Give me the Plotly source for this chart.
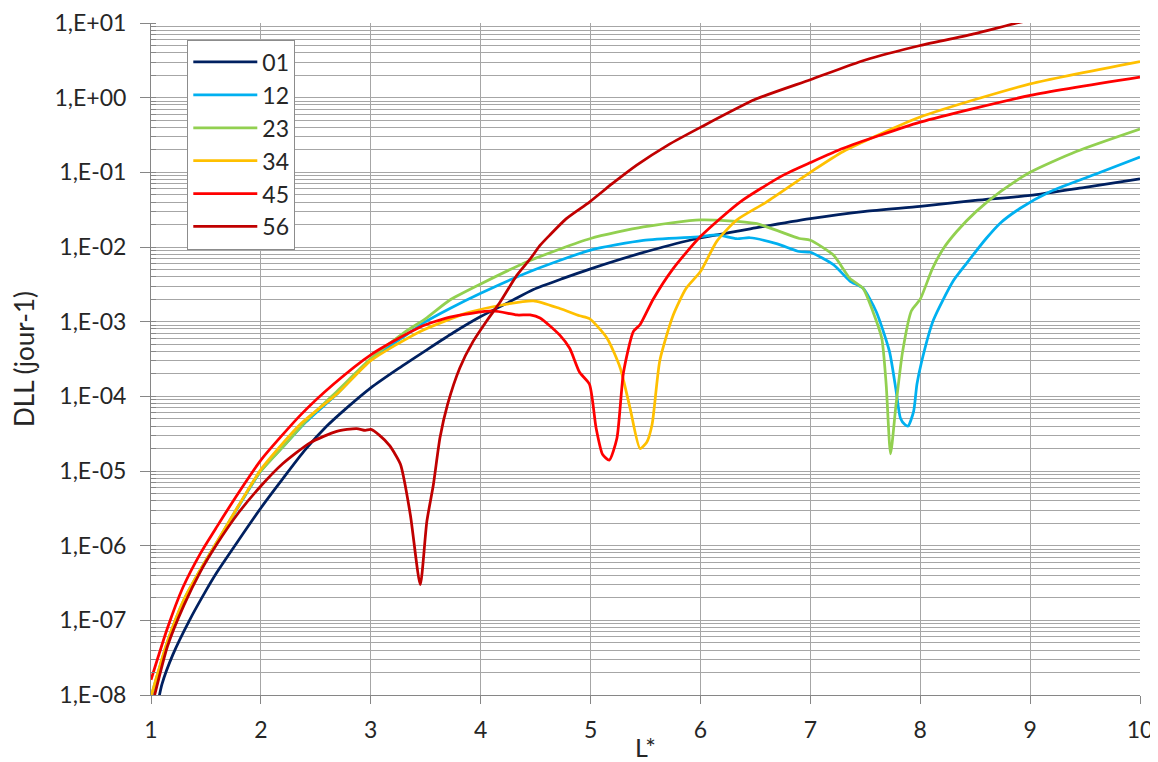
import plotly.graph_objects as go

# ---------------- data ----------------
L_01 = [1.05, 1.1, 1.2, 1.35, 1.5, 1.6, 1.8, 2.0, 2.2, 2.4, 2.6, 2.8, 3.0, 3.25, 3.51, 3.75,
        4.0, 4.25, 4.48, 4.75, 5.0, 5.45, 5.93, 6.5, 7.0, 7.5, 8.0, 8.5, 9.0, 9.5, 10.0]
D_01 = [6.3e-9, 1.4e-8, 3.5e-8, 1.0e-7, 2.5e-7, 4.4e-7, 1.2e-6, 3.2e-6, 7.9e-6, 1.9e-5, 4.0e-5,
        7.4e-5, 1.3e-4, 2.35e-4, 4.2e-4, 7.1e-4, 1.17e-3, 1.8e-3, 2.7e-3, 3.8e-3, 5.1e-3, 8.2e-3,
        1.26e-2, 1.8e-2, 2.4e-2, 3.0e-2, 3.5e-2, 4.2e-2, 4.9e-2, 6.3e-2, 8.2e-2]

L_12 = [1.0, 1.15, 1.3, 1.45, 1.6, 1.8, 2.0, 2.2, 2.4, 2.7, 3.0, 3.3, 3.5, 3.72, 4.0, 4.45, 5.0,
        5.48, 6.0, 6.15, 6.33, 6.45, 6.7, 6.9, 7.0, 7.21, 7.36, 7.48, 7.6, 7.72, 7.78, 7.82, 7.86,
        7.89, 7.94, 7.97, 8.01, 8.12, 8.3, 8.42, 8.6, 8.73, 8.91, 9.18, 9.64, 10.0]
D_12 = [9e-9, 5.0e-8, 1.8e-7, 4.7e-7, 1.1e-6, 3.4e-6, 1.0e-5, 2.1e-5, 4.4e-5, 1.1e-4, 3.1e-4,
        6.3e-4, 1.0e-3, 1.5e-3, 2.4e-3, 4.7e-3, 9.1e-3, 1.23e-2, 1.38e-2, 1.45e-2, 1.29e-2,
        1.33e-2, 1.1e-2, 8.7e-3, 8.5e-3, 5.8e-3, 3.5e-3, 2.8e-3, 1.36e-3, 4.0e-4, 1.2e-4, 5.1e-5,
        4.2e-5, 4.0e-5, 6.3e-5, 1.45e-4, 2.8e-4, 1.05e-3, 3.5e-3, 6.0e-3, 1.3e-2, 2.1e-2,
        3.3e-2, 5.5e-2, 1.0e-1, 1.6e-1]

L_23 = [1.0, 1.15, 1.3, 1.45, 1.6, 1.8, 2.0, 2.2, 2.4, 2.7, 3.0, 3.3, 3.5, 3.72, 4.0, 4.45, 5.0,
        5.48, 6.0, 6.5, 6.9, 7.0, 7.21, 7.36, 7.48, 7.57, 7.65, 7.69, 7.73, 7.78, 7.84, 7.92, 8.0,
        8.11, 8.21, 8.33, 8.51, 8.73, 9.0, 9.42, 10.0]
D_23 = [9.5e-9, 5.2e-8, 1.9e-7, 4.8e-7, 1.12e-6, 3.5e-6, 1.0e-5, 2.1e-5, 4.5e-5, 1.2e-4, 3.2e-4,
        7.1e-4, 1.1e-3, 1.95e-3, 3.2e-3, 6.6e-3, 1.3e-2, 1.86e-2, 2.3e-2, 2.07e-2, 1.3e-2,
        1.23e-2, 7.8e-3, 3.8e-3, 2.8e-3, 1.36e-3, 6.0e-4, 1.45e-4, 1.7e-5, 7.8e-5, 4.0e-4,
        1.4e-3, 2.0e-3, 5.1e-3, 9.5e-3, 1.6e-2, 3.0e-2, 5.5e-2, 1.0e-1, 1.9e-1, 3.8e-1]

L_34 = [1.0, 1.15, 1.3, 1.45, 1.6, 1.8, 2.0, 2.356, 2.7, 3.0, 3.45, 3.87, 4.18, 4.48, 4.72, 4.9,
        4.99, 5.15, 5.27, 5.36, 5.45, 5.51, 5.56, 5.63, 5.75, 5.87, 6.0, 6.15, 6.33, 6.6, 7.0,
        7.3, 8.0, 9.0, 10.0]
D_34 = [9.5e-9, 5.2e-8, 1.9e-7, 4.8e-7, 1.12e-6, 3.5e-6, 1.05e-5, 4.2e-5, 1.1e-4, 3.0e-4, 7.4e-4,
        1.3e-3, 1.66e-3, 1.9e-3, 1.5e-3, 1.2e-3, 1.1e-3, 6.0e-4, 2.4e-4, 6.9e-5, 2.0e-5, 2.4e-5,
        4.2e-5, 3.0e-4, 1.2e-3, 2.8e-3, 4.7e-3, 1.2e-2, 2.3e-2, 4.0e-2, 1.0e-1, 1.9e-1, 5.5e-1,
        1.53, 3.05]

L_45 = [1.0, 1.15, 1.29, 1.45, 1.6, 1.8, 2.0, 2.36, 2.66, 3.0, 3.45, 3.72, 4.11, 4.33, 4.45, 4.54,
        4.72, 4.81, 4.9, 4.99, 5.05, 5.11, 5.17, 5.24, 5.3, 5.39, 5.45, 5.57, 5.75, 6.0, 6.36,
        6.75, 7.0, 7.3, 8.0, 9.0, 10.0]
D_45 = [1.6e-8, 7.9e-8, 2.75e-7, 7.9e-7, 1.8e-6, 5.2e-6, 1.4e-5, 5.6e-5, 1.45e-4, 3.6e-4, 8.5e-4,
        1.15e-3, 1.39e-3, 1.23e-3, 1.23e-3, 1.12e-3, 6.6e-4, 4.4e-4, 2.1e-4, 1.45e-4, 3.8e-5,
        1.66e-5, 1.4e-5, 2.75e-5, 2.1e-4, 7.4e-4, 9.1e-4, 2.0e-3, 5.1e-3, 1.38e-2, 4.0e-2,
        9.1e-2, 1.35e-1, 2.1e-1, 4.7e-1, 1.07, 1.88]

L_56 = [1.0, 1.15, 1.3, 1.45, 1.6, 1.8, 2.0, 2.2, 2.45, 2.69, 2.87, 2.95, 3.0, 3.08, 3.17, 3.27,
        3.36, 3.45, 3.51, 3.57, 3.63, 3.7, 3.81, 3.93, 4.05, 4.18, 4.33, 4.45, 4.54, 4.63, 4.78,
        4.99, 5.2, 5.42, 5.7, 6.0, 6.5, 7.0, 7.5, 8.0, 8.5, 8.88, 9.2]
D_56 = [6.3e-9, 4.5e-8, 1.6e-7, 4.5e-7, 1.05e-6, 2.8e-6, 6.3e-6, 1.26e-5, 2.4e-5, 3.4e-5, 3.7e-5,
        3.5e-5, 3.6e-5, 3.0e-5, 2.2e-5, 1.23e-5, 2.6e-6, 3.0e-7, 2.1e-6, 6.6e-6, 2.8e-5, 7.9e-5,
        2.4e-4, 5.4e-4, 1.0e-3, 1.86e-3, 4.2e-3, 6.9e-3, 1.05e-2, 1.45e-2, 2.4e-2, 4.0e-2,
        7.1e-2, 1.25e-1, 2.3e-1, 4.0e-1, 9.5e-1, 1.74, 3.2, 5.0, 7.2, 10.0, 12.6]

series_names = ["01", "12", "23", "34", "45", "56"]
series_L = [L_01, L_12, L_23, L_34, L_45, L_56]
series_D = [D_01, D_12, D_23, D_34, D_45, D_56]
series_colors = ["#002060", "#00B0F0", "#92D050", "#FFC000", "#FF0000", "#C00000"]

y_tickvals = [1e-8, 1e-7, 1e-6, 1e-5, 1e-4, 1e-3, 1e-2, 1e-1, 1e0, 1e1]
y_ticktext = ["1,E-08", "1,E-07", "1,E-06", "1,E-05", "1,E-04", "1,E-03", "1,E-02", "1,E-01",
              "1,E+00", "1,E+01"]
x_tickvals = [1, 2, 3, 4, 5, 6, 7, 8, 9, 10]

FONT = "Lato"
GRID = "#A6A6A6"
TXT = "#262626"

fig = go.Figure()
for name, xs, ys, col in zip(series_names, series_L, series_D, series_colors):
    fig.add_trace(go.Scatter(x=xs, y=ys, mode="lines", name=name, legendgroup=name,
                             line=dict(color=col, width=2.75, shape="spline", smoothing=0.6)))

fig.update_layout(
    width=1150, height=754,
    margin=dict(l=143, r=18, t=15, b=67),
    paper_bgcolor="white", plot_bgcolor="white",
    font=dict(family=FONT, size=23, color=TXT),
    showlegend=True,
    legend=dict(x=0.0367, y=0.9754, xanchor="left", yanchor="top",
                bgcolor="white", bordercolor="#8C8C8C", borderwidth=1,
                font=dict(family=FONT, size=23, color=TXT),
                tracegroupgap=0, itemwidth=64),
    xaxis=dict(range=[1, 10], tickmode="array", tickvals=x_tickvals, automargin=False,
               showgrid=True, gridcolor=GRID, gridwidth=1,
               showline=True, linecolor="#868686", linewidth=1,
               ticks="outside", ticklen=8, tickcolor="#868686", ticklabelstandoff=6,
               ticklabeloverflow="allow",
               tickfont=dict(family=FONT, size=23, color=TXT),
               zeroline=False,
               title=dict(text="L*", font=dict(family=FONT, size=25, color=TXT), standoff=12)),
    yaxis=dict(type="log", range=[-8, 1], tickmode="array", tickvals=y_tickvals,
               ticktext=y_ticktext, automargin=False,
               showgrid=True, gridcolor=GRID, gridwidth=1,
               showline=True, linecolor="#868686", linewidth=1,
               ticks="outside", ticklen=10, tickcolor="#868686", ticklabelstandoff=9,
               ticklabeloverflow="allow",
               tickfont=dict(family=FONT, size=23, color=TXT),
               minor=dict(dtick="D1", showgrid=True, gridcolor=GRID, gridwidth=1,
                          ticks="inside", ticklen=5, tickcolor="#868686"),
               zeroline=False,
               title=dict(text="DLL (jour-1)", font=dict(family=FONT, size=26, color=TXT),
                          standoff=13)),
)

fig.write_html("out.html")
